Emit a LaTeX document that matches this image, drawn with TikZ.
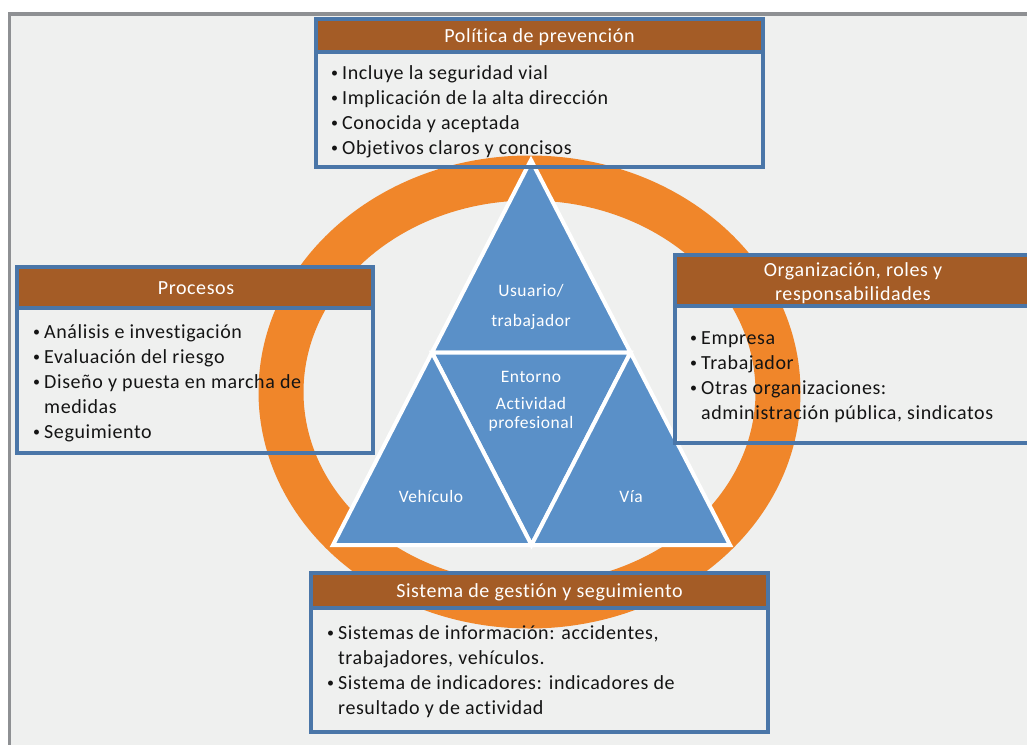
\documentclass[tikz,border=0pt]{standalone}
\usepackage{fontspec}
\setmainfont{Carlito}[LetterSpace=3,Ligatures={NoCommon}]
\definecolor{ringc}{HTML}{F0862A}
\definecolor{tric}{HTML}{5A90C8}
\definecolor{hdrc}{HTML}{A45C26}
\definecolor{bordc}{HTML}{4A76A8}
\definecolor{bgc}{HTML}{EFF0EF}
\definecolor{framec}{HTML}{8E9093}
\definecolor{txtc}{HTML}{141414}
\newcommand\bl{\makebox[11pt][l]{\raisebox{1.5pt}{\fontsize{14}{14}\selectfont\textbullet}}}
\newcommand\ind{\hspace*{11pt}}
\newcommand\bodyfont{\fontsize{20}{25}\selectfont}
\begin{document}
\begin{tikzpicture}[x=1pt,y=-1pt,
  hdrbox/.style={draw=bordc,fill=hdrc,line width=4pt,inner sep=0,outer sep=0,anchor=north west},
  bodybox/.style={draw=bordc,line width=4pt,inner sep=0,outer sep=0,anchor=north west},
  hdrtext/.style={text=white,font=\fontsize{20}{24}\selectfont,inner sep=0,anchor=base},
  bodytext/.style={text=txtc,inner sep=0,anchor=base west},
  tritext/.style={text=white,font=\fontsize{17.5}{20}\selectfont,inner sep=0,anchor=base},
  tripart/.style={fill=tric,draw=white,line width=4pt,line join=miter}]
\useasboundingbox (0,0) rectangle (1027,744);
\fill[white] (0,0) rectangle (1027,744);
% frame
\fill[bgc] (9.5,14) rectangle (1040,760);
\draw[framec,line width=3.5pt] (9.5,760) -- (9.5,14) -- (1040,14);
% ring
\draw[ringc,line width=45pt] (529.5,392) ellipse [x radius=248.5, y radius=214];
% triangle
\coordinate (A) at (531,160);
\coordinate (B) at (333,545);
\coordinate (C) at (730,545);
\coordinate (AB) at (432,352.5);
\coordinate (AC) at (630.5,352.5);
\coordinate (BC) at (531.5,545);
\draw[tripart] (A) -- (AB) -- (AC) -- cycle;
\draw[tripart] (AB) -- (AC) -- (BC) -- cycle;
\draw[tripart] (AB) -- (B) -- (BC) -- cycle;
\draw[tripart] (AC) -- (BC) -- (C) -- cycle;
\node[tritext] (t1) at (531,296) {Usuario/};
\node[tritext] (t2) at (531,326) {trabajador};
\node[tritext] (t3) at (531,382) {Entorno};
\node[tritext] (t4) at (531,409) {Actividad};
\node[tritext] (t5) at (531,428) {profesional};
\node[tritext] (t6) at (431,502) {Vehículo};
\node[tritext] (t7) at (631,502) {Vía};
% top box
\node[bodybox,minimum width=447pt,minimum height=148pt] (topbody) at (316,19) {};
\node[hdrbox,minimum width=447pt,minimum height=33pt] (tophdr) at (316,19) {};
\node[hdrtext] (toph) at (539.5,42) {Política de prevención};
\node[bodytext] (topt) at (331,79) {\bodyfont\begin{tabular}[t]{@{}l@{}}
\bl Incluye la seguridad vial\\
\bl Implicación de la alta dirección\\
\bl Conocida y aceptada\\
\bl Objetivos claros y concisos\end{tabular}};
% left box
\node[bodybox,minimum width=356pt,minimum height=186pt] (leftbody) at (17,267) {};
\node[hdrbox,minimum width=356pt,minimum height=41pt] (lefthdr) at (17,267) {};
\node[hdrtext] (lefth) at (196,294) {Procesos};
\node[bodytext] (leftt) at (33,338) {\bodyfont\begin{tabular}[t]{@{}l@{}}
\bl Análisis e investigación\\
\bl Evaluación del riesgo\\
\bl Diseño y puesta en marcha de\\
\ind medidas\\
\bl Seguimiento\end{tabular}};
% right box
\node[bodybox,minimum width=360pt,minimum height=188pt] (rightbody) at (675,255) {};
\node[hdrbox,minimum width=360pt,minimum height=51pt] (righthdr) at (675,255) {};
\node[hdrtext] (righth1) at (853,276) {Organización, roles y};
\node[hdrtext] (righth2) at (853,300) {responsabilidades};
\node[bodytext] (rightt) at (690,344) {\bodyfont\begin{tabular}[t]{@{}l@{}}
\bl Empresa\\
\bl Trabajador\\
\bl Otras organizaciones:\\
\ind administración pública, sindicatos\end{tabular}};
% bottom box
\node[bodybox,minimum width=457pt,minimum height=159pt] (botbody) at (311,573) {};
\node[hdrbox,minimum width=457pt,minimum height=35pt] (bothdr) at (311,573) {};
\node[hdrtext] (both) at (539.5,597) {Sistema de gestión y seguimiento};
\node[bodytext] (bott) at (327,639) {\bodyfont\begin{tabular}[t]{@{}l@{}}
\bl Sistemas de información: accidentes,\\
\ind trabajadores, vehículos.\\
\bl Sistema de indicadores: indicadores de\\
\ind resultado y de actividad\end{tabular}};
\end{tikzpicture}
\end{document}
